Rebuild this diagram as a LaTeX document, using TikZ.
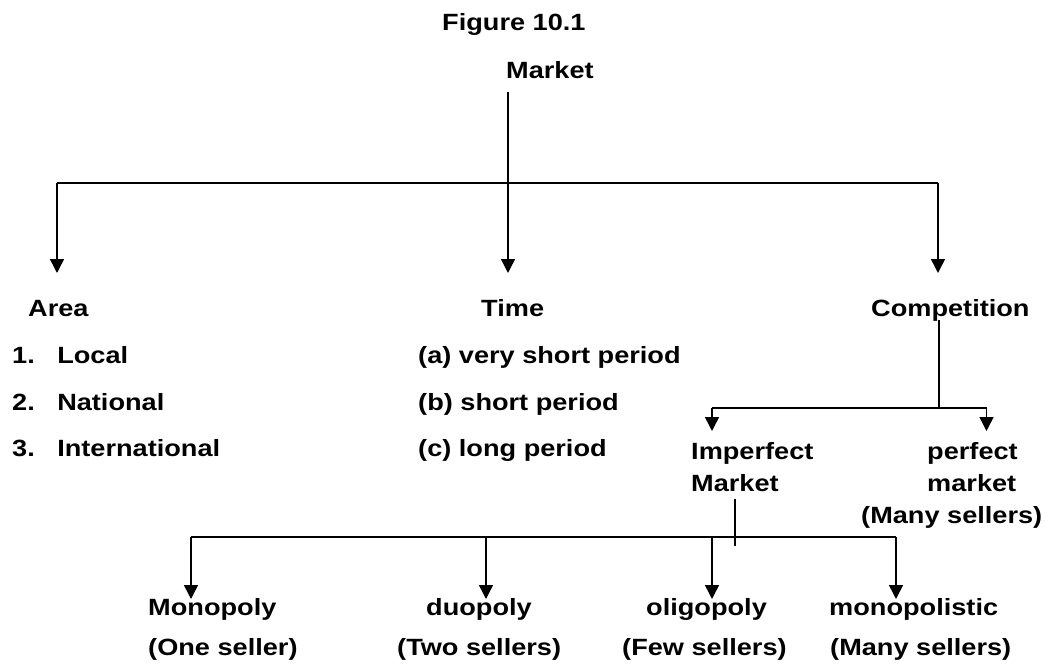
\documentclass[tikz,border=0pt]{standalone}
\usepackage{fontspec}
\setmainfont{Liberation Sans}
\usetikzlibrary{arrows.meta}
\begin{document}
\begin{tikzpicture}[x=1pt,y=-1pt,
  lbl/.style={inner sep=0pt, anchor=base west, font=\bfseries\fontsize{23.5}{28}\selectfont, xscale=1.155},
  conn/.style={line width=1.5pt, line cap=butt},
  arr/.style={conn, -{Triangle[length=14pt,width=14pt]}}]
\useasboundingbox (0,0) rectangle (1045,669);

% titles
\node[lbl] (fig) at (442,31) {Figure 10.1};
\node[lbl] (market) at (506,79) {Market};

% first level
\node[lbl] (area) at (28,316) {Area};
\node[lbl] (time) at (481,316) {Time};
\node[lbl] (comp) at (871,316) {Competition};

% area list
\node[lbl] (a1) at (12,363) {\makebox[39pt][l]{1.}Local};
\node[lbl] (a2) at (12,410) {\makebox[39pt][l]{2.}National};
\node[lbl] (a3) at (12,456) {\makebox[39pt][l]{3.}International};

% time list
\node[lbl] (t1) at (418,363) {(a) very short period};
\node[lbl] (t2) at (418,410) {(b) short period};
\node[lbl] (t3) at (418,456) {(c) long period};

% competition
\node[lbl] (imp) at (691,459) {Imperfect};
\node[lbl] (impb) at (691,491) {Market};
\node[lbl] (perf) at (927,459) {perfect};
\node[lbl] (perfb) at (927,491) {market};
\node[lbl] (perfc) at (861,523) {(Many sellers)};

% bottom level
\node[lbl] (mono) at (148,615) {Monopoly};
\node[lbl] (monos) at (148,655) {(One seller)};
\node[lbl] (duo) at (426,615) {duopoly};
\node[lbl] (duos) at (397,655) {(Two sellers)};
\node[lbl] (oli) at (646,615) {oligopoly};
\node[lbl] (olis) at (622,655) {(Few sellers)};
\node[lbl] (mpl) at (829,615) {monopolistic};
\node[lbl] (mpls) at (830,655) {(Many sellers)};

% connector points
\coordinate (m0) at (508,92);
\coordinate (j0) at (508,182.5);
\coordinate (tA) at (57,273);
\coordinate (tT) at (508,273);
\coordinate (tC) at (938,273);

\coordinate (c0) at (939,320);
\coordinate (c1) at (939,408);
\coordinate (tI) at (712,431);
\coordinate (tP) at (986.5,431);

\coordinate (i0) at (735,499);
\coordinate (i1) at (735,546);
\coordinate (h0) at (191,537);
\coordinate (h1) at (896,537);
\coordinate (tM) at (191,599);
\coordinate (tD) at (486,599);
\coordinate (tO) at (712,599);
\coordinate (tL) at (896,599);

% market branches
\draw[arr] (m0) -- (tT);
\draw[conn, line width=2pt] (tA |- j0) -- (tC |- j0);
\draw[arr] (tA |- j0) -- (tA);
\draw[arr] (tC |- j0) -- (tC);

% competition branches
\draw[conn] (c0) -- (c1);
\draw[conn] (tI |- c1) -- (tP |- c1);
\draw[arr] (tI |- c1) -- (tI);
\draw[arr] (tP |- c1) -- (tP);

% imperfect market branches
\draw[conn] (i0) -- (i1);
\draw[conn] (h0) -- (h1);
\draw[arr] (h0) -- (tM);
\draw[arr] (tD |- h0) -- (tD);
\draw[arr] (tO |- h0) -- (tO);
\draw[arr] (h1) -- (tL);
\end{tikzpicture}
\end{document}
